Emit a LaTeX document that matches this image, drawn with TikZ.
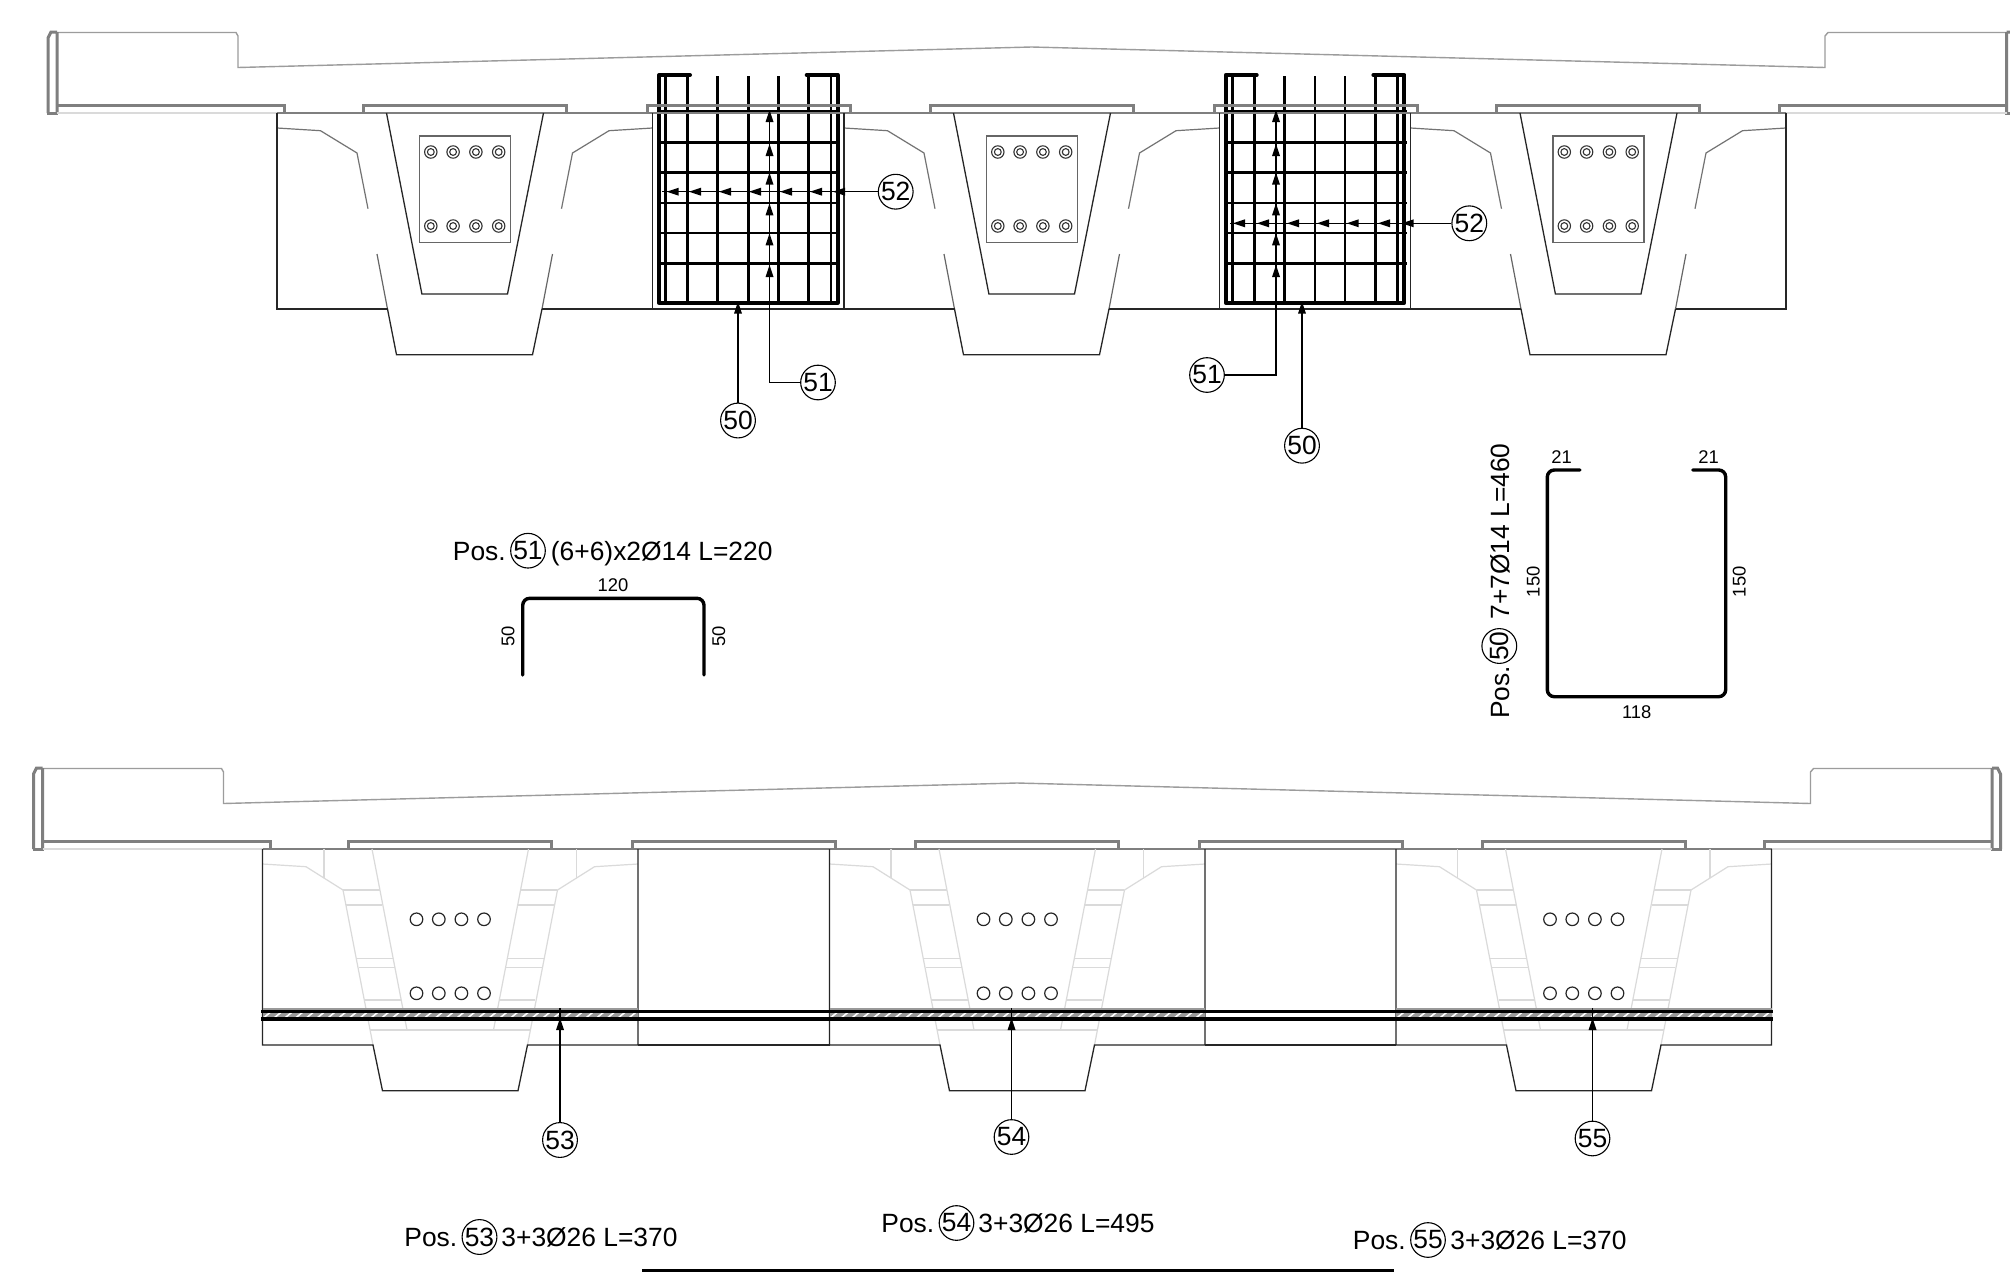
\documentclass[tikz,border=0pt]{standalone}
\usepackage{fontspec}
\setmainfont{Liberation Sans}
\definecolor{deckc}{HTML}{7F7F7F}
\definecolor{slabc}{HTML}{9C9C9C}
\definecolor{lightc}{HTML}{DADADA}
\definecolor{hatchc}{HTML}{999999}
\tikzset{
  px/.style={line width=#1*0.5pt},
  deckthick/.style={draw=deckc,px=3,line join=miter},
  deckthin/.style={draw=slabc,px=1.4},
  thinblk/.style={draw=black!85,px=1.3},
  concr/.style={draw=black!60,px=1.2},
  lightl/.style={draw=lightc,px=1.2},
  cagethick/.style={draw=black,px=4,line join=round,line cap=round},
  cagebar/.style={draw=black,px=2.6},
  leader/.style={draw=black,px=1.1},
  bubble/.style={circle,draw=black,px=1.1,minimum size=16.5pt,inner sep=0pt,font=\fontsize{13.2}{13.2}\selectfont},
  inbubble/.style={circle,draw=black,px=1.1,minimum size=15pt,inner sep=0pt,font=\fontsize{13.2}{13.2}\selectfont},
  lab/.style={inner sep=0pt,font=\fontsize{13.2}{13.2}\selectfont,anchor=base west},
  dimlab/.style={inner sep=0pt,font=\fontsize{9.2}{9.2}\selectfont},
  barbend/.style={draw=black,px=3.4,rounded corners=3.5pt,line cap=round},
}
\newcommand{\tipU}[2]{\fill[black] (#1,#2) -- ++(-4,12) -- ++(8,0) -- cycle;}
\newcommand{\tipL}[2]{\fill[black] (#1,#2) -- ++(12,-4) -- ++(0,8) -- cycle;}
\newcommand{\deckdraw}{%
  \draw[deckthin] (57,32.5) -- (236,32.5) -- (238,36) -- (238,67.5) -- (1031.5,47) -- (1825,67.5) -- (1825,36) -- (1828,32.5) -- (2006.5,32.5);
  \draw[deckthick] (57,113) -- (57,32) (48,113) -- (48,38) -- (51,32) -- (57,32);
  \draw[deckthick] (2006.5,113) -- (2006.5,32) (2015,113) -- (2015,38) -- (2012,32) -- (2006.5,32);
  \draw[deckthick] (47,113) -- (58,113) (2005,113) -- (2016,113);
  \draw[deckthick] (57,105) -- (284.5,105) -- (284.5,113);
  \draw[deckthick] (2006.5,105) -- (1779,105) -- (1779,113);
  \draw[deckthin,draw=lightc,px=2] (57,113) -- (277,113) (1786,113) -- (2006.5,113);
  \foreach \c in {464.5,748.5,1031.5,1315.5,1598}{
    \draw[deckthick] (\c-101.5,113) -- (\c-101.5,105) -- (\c+101.5,105) -- (\c+101.5,113);
  }
  \draw[deckthick,px=2.4] (277,113) -- (1786,113);
}
\newcommand{\cagedraw}{%
  \foreach \y in {111.7,142.7,172.7,203,233,263.3}{\draw[cagebar] (657.5,\y) -- (840,\y);}
  \foreach \x in {665.5,687.7,717.7,748.3,778.3,808.7,831}{\draw[cagebar] (\x,76) -- (\x,303);}
  \draw[cagethick] (690,75) -- (659,75) -- (659,302.7) -- (837.7,302.7) -- (837.7,75) -- (806.7,75);
}
\begin{document}
\begin{tikzpicture}[x=0.5pt,y=-0.5pt]
\useasboundingbox (0,0) rectangle (2010,1275);
\clip (0,0) rectangle (2010,1275);
\fill[white] (0,0) rectangle (2010,1275);
% ---------- upper section
\cagedraw
\begin{scope}[shift={(566.7,0)}]\cagedraw\end{scope}
\deckdraw
\foreach \c in {464.5,1031.5,1598}{
  \begin{scope}[shift={(\c,0)}]
    \draw[deckthin,draw=black!55,px=1.2] (-187.5,128) -- (-144,130.7) -- (-107.5,153) -- (-96.5,208.7);
    \draw[deckthin,draw=black!55,px=1.2] (188,128) -- (144.5,130.7) -- (108,153) -- (97,208.7);
    \draw[concr] (-87.5,254) -- (-77,309);
    \draw[concr] (88,254) -- (77.5,309);
    \draw[thinblk] (-77,309) -- (-68,354.7) -- (68,354.7) -- (77.5,309);
    \draw[thinblk] (-78,113) -- (-42.6,294) -- (43,294) -- (79,113);
    \draw[concr,px=1.6] (-45,136) rectangle (46,242.3);
    \draw[thinblk] (-187.5,113) -- (-187.5,309) -- (-77,309) (77.5,309) -- (188,309) -- (188,113);
    \foreach \bx in {-33.7,-11.4,11.4,34.2}{
      \foreach \by in {152,226}{
        \draw[draw=black!80,px=1.1] (\bx,\by) circle (6.2) (\bx,\by) circle (3.4);
      }
    }
  \end{scope}
}
\draw[thinblk] (652.5,309) -- (843.5,309) (1219.5,309) -- (1410,309);
% ---------- leaders, upper
\node[bubble] (ba) at (738,420.5) {50};
\coordinate (ta) at (738,301.7);
\draw[leader] (ba) -- (ta); \tipU{738}{301.7}
\node[bubble] (bb) at (818,382.5) {51};
\coordinate (tb) at (769.5,110);
\draw[leader] (bb) -| (tb);
\foreach \y in {110,144,172.7,203.3,233.3,265}{\tipU{769.5}{\y}}
\node[bubble] (bc) at (895.7,191.7) {52};
\coordinate (tc) at (662,191.7);
\draw[leader] (bc) -- (tc);
\foreach \x in {833,810,780,749,719,689,666.7}{\tipL{\x}{191.7}}
\node[bubble] (bd) at (1302,445.7) {50};
\coordinate (td) at (1302,301.7);
\draw[leader] (bd) -- (td); \tipU{1302}{301.7}
\node[bubble] (be) at (1207,375) {51};
\coordinate (te) at (1276,110);
\draw[leader] (be) -| (te);
\foreach \y in {110,144,172.7,203.3,233.3,265}{\tipU{1276}{\y}}
\node[bubble] (bf) at (1469.3,223.3) {52};
\coordinate (tf) at (1230,223.3);
\draw[leader] (bf) -- (tf);
\foreach \x in {1401.7,1378,1346.7,1317,1287,1257,1233}{\tipL{\x}{223.3}}
% ---------- bending schedules
\node[lab] (t1a) at (452.5,560) {Pos.};
\node[inbubble] (t1b) at (528,550.7) {51};
\node[lab] (t1c) at (550.5,560) {(6+6)x2Ø14 L=220};
\node[dimlab] (d1) at (613,584.7) {120};
\node[dimlab,rotate=90] (d2) at (508,636) {50};
\node[dimlab,rotate=90] (d3) at (718.7,636) {50};
\draw[barbend] (522.7,675) -- (522.7,598.3) -- (704,598.3) -- (704,675);
\node[lab,rotate=90] (t2a) at (1509,719) {Pos.};
\node[inbubble,rotate=90] (t2b) at (1499.3,646) {50};
\node[lab,rotate=90] (t2c) at (1509,620) {7+7Ø14 L=460};
\node[dimlab] (d4) at (1561.7,456.7) {21};
\node[dimlab] (d5) at (1708.7,456.7) {21};
\node[dimlab,rotate=90] (d6) at (1533.3,581.7) {150};
\node[dimlab,rotate=90] (d7) at (1739.3,581.7) {150};
\node[dimlab] (d8) at (1636.7,711.7) {118};
\draw[barbend] (1580,470) -- (1547.3,470) -- (1547.3,696.7) -- (1725.7,696.7) -- (1725.7,470) -- (1692.7,470);
% ---------- lower section
\begin{scope}[shift={(-14.5,736)}]\deckdraw\end{scope}
\foreach \c in {450,1017,1583.5}{
  \begin{scope}[shift={(\c,0)}]
    \draw[lightl] (-187.5,864) -- (-144,866.7) -- (-107,890) -- (-77,1045);
    \draw[lightl] (188,864) -- (144.5,866.7) -- (107.5,890) -- (77.5,1045);
    \draw[lightl] (-126,849) -- (-126,878) (126.5,849) -- (126.5,878);
    \draw[lightl] (-78,849) -- (-43,1030) -- (43.5,1030) -- (78.5,849);
    \draw[lightl] (-80,1030) -- (80.5,1030);
    \foreach \s in {-1,1}{
      \draw[lightl] (\s*107,890) -- (\s*70.5,890) (\s*104,905) -- (\s*68,905)
        (\s*93.5,958.3) -- (\s*57,958.3) (\s*91.5,967.3) -- (\s*55.5,967.3)
        (\s*85,1000) -- (\s*49,1000);
    }
    \draw[thinblk] (-187.5,849) -- (-187.5,1045) -- (-77,1045) -- (-67.5,1090.7) -- (68,1090.7) -- (77.5,1045) -- (188,1045) -- (188,849);
    \foreach \bx in {-33.5,-11.2,11.4,34}{
      \foreach \by in {919.3,993.3}{
        \draw[draw=black!85,px=1.2] (\bx,\by) circle (6.3);
      }
    }
    \fill[hatchc] (-187.5,1007.5) rectangle (188,1021);
    \foreach \k in {0,...,34}{
      \draw[white,px=1.6] (-186+\k*10.75,1017.5) -- (-180+\k*10.75,1012.5);
    }
  \end{scope}
}
\draw[thinblk] (638,1045) -- (829.5,1045) (1205,1045) -- (1396,1045);
\draw[black,px=3] (261,1011) -- (1773,1011);
\draw[black,px=3.4] (261,1019) -- (1773,1019);
\node[bubble] (bg) at (560,1140) {53};
\coordinate (tg) at (560,1008);
\draw[leader] (bg) -- (tg); \tipU{560}{1018}
\node[bubble] (bh) at (1011.5,1137) {54};
\coordinate (th) at (1011.5,1008);
\draw[leader] (bh) -- (th); \tipU{1011.5}{1018}
\node[bubble] (bi) at (1592.5,1138.5) {55};
\coordinate (ti) at (1592.5,1008);
\draw[leader] (bi) -- (ti); \tipU{1592.5}{1018}
% ---------- bottom labels
\node[lab] (t3a) at (404,1246) {Pos.};
\node[inbubble] (t3b) at (479.5,1237) {53};
\node[lab] (t3c) at (501,1246) {3+3Ø26 L=370};
\node[lab] (t4a) at (881,1232) {Pos.};
\node[inbubble] (t4b) at (956.5,1223) {54};
\node[lab] (t4c) at (978,1232) {3+3Ø26 L=495};
\node[lab] (t5a) at (1352.5,1249) {Pos.};
\node[inbubble] (t5b) at (1428,1240) {55};
\node[lab] (t5c) at (1450,1249) {3+3Ø26 L=370};
\coordinate (ra) at (642,1270);
\coordinate (rb) at (1394,1270);
\draw[black,px=3] (ra) -- (rb);
\end{tikzpicture}
\end{document}
